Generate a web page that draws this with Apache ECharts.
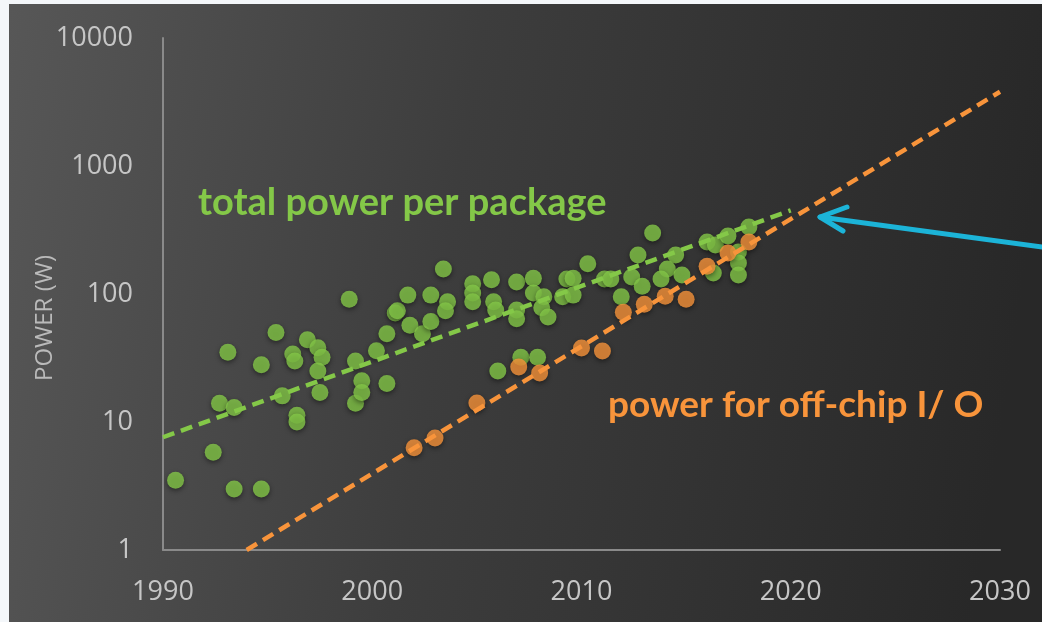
<!DOCTYPE html>
<html>
<head>
<meta charset="utf-8">
<script src="https://cdn.jsdelivr.net/npm/echarts@6/dist/echarts.min.js"></script>
<style>
  html, body { margin: 0; padding: 0; background: #f4f7fa; }
  #chart { position: absolute; left: 9px; top: 4px; width: 1033px; height: 618px; }
</style>
</head>
<body>
<div id="chart"></div>
<script>
// Total power per package [year, W]
const packagePower = [
  [1990.6, 3.5], [1992.4, 5.8], [1993.4, 3.0], [1994.7, 3.0], [1992.7, 14], [1993.4, 13],
  [1993.1, 35], [1994.7, 28], [1995.4, 50], [1996.2, 34], [1996.3, 30], [1996.4, 11.3],
  [1996.4, 10], [1995.7, 16], [1996.9, 44], [1997.4, 38], [1997.6, 32], [1997.4, 25],
  [1997.5, 17], [1998.9, 91], [1999.2, 30], [1999.2, 14], [1999.5, 21], [1999.5, 17],
  [2000.2, 36], [2000.7, 49], [2000.7, 20], [2001.1, 71], [2001.2, 74], [2001.7, 98],
  [2001.8, 57], [2002.4, 49], [2002.8, 98], [2002.8, 61], [2003.4, 157], [2003.6, 87],
  [2003.5, 74], [2004.8, 120], [2004.8, 102], [2004.8, 87], [2005.7, 129], [2005.8, 87],
  [2005.9, 75], [2006.9, 124], [2007.7, 133], [2007.7, 102], [2006.9, 75], [2006.9, 64],
  [2008.2, 95], [2008.1, 78], [2008.4, 66], [2009.3, 131], [2009.6, 133], [2009.1, 95],
  [2009.6, 98], [2010.3, 172], [2011.1, 131], [2011.4, 131], [2012.7, 202], [2012.4, 136],
  [2012.9, 115], [2011.9, 95], [2013.4, 300], [2014.5, 202], [2014.1, 157], [2014.8, 141],
  [2013.8, 131], [2016.0, 255], [2016.4, 241], [2017.0, 284], [2018.0, 334], [2017.5, 213],
  [2017.5, 175], [2016.3, 146], [2017.5, 141], [2007.1, 32], [2007.9, 32], [2006.0, 25]
];

// Power for off-chip I/O [year, W]
const ioPower = [
  [2002, 6.3], [2003, 7.5], [2005, 14.1], [2007, 26.9], [2008, 24.1], [2010, 37.9],
  [2011, 35.9], [2012, 72], [2013, 83], [2014, 96], [2015, 91], [2016, 165],
  [2017, 209], [2018, 255]
];

// Exponential trend lines (straight on the log axis)
const packageTrend = [[1990, 7.6], [2020, 450]];
const ioTrend = [[1994, 1], [2030, 3800]];

const xTicks = { min: 1990, max: 2030, step: 10 };
const yTicks = { min: 1, max: 10000 };

const labels = {
  package: 'total power per package',
  io: 'power for off-chip I/ O',
  yName: 'POWER (W)'
};

const GREEN = '#84c848';
const ORANGE = '#f8943b';
const CYAN = '#1cb4d8';

const chart = echarts.init(document.getElementById('chart'), null, { renderer: 'canvas' });

const dotStyle = fill => ({
  color: fill,
  borderWidth: 0,
  shadowBlur: 5,
  shadowOffsetY: 2,
  shadowColor: 'rgba(0,0,0,0.55)'
});

// plain integers, no thousands separators
const plain = v => String(Math.round(v));

chart.setOption({
  animation: false,
  backgroundColor: {
    type: 'linear', x: 0, y: 0, x2: 1, y2: 0.25,
    colorStops: [
      { offset: 0, color: '#575757' },
      { offset: 0.45, color: '#3d3d3d' },
      { offset: 1, color: '#282828' }
    ]
  },
  grid: { left: 154, top: 34, right: 42, bottom: 72, containLabel: false },
  xAxis: {
    type: 'value',
    min: xTicks.min, max: xTicks.max, interval: xTicks.step,
    axisLine: { lineStyle: { color: '#8a8a8a', width: 2 } },
    axisTick: { show: false },
    splitLine: { show: false },
    axisLabel: { color: '#c6c6c6', fontSize: 27, fontFamily: 'Open Sans', margin: 29, formatter: plain }
  },
  yAxis: {
    type: 'log', logBase: 10,
    min: yTicks.min, max: yTicks.max,
    name: labels.yName,
    nameLocation: 'middle',
    nameGap: 106,
    nameMoveOverlap: false,
    nameTextStyle: {
      color: '#bababa', fontSize: 24, fontFamily: 'Open Sans',
      padding: [0, 48, 0, 0]
    },
    axisLine: { show: true, lineStyle: { color: '#8a8a8a', width: 2 } },
    axisTick: { show: false },
    splitLine: { show: false },
    axisLabel: { color: '#c6c6c6', fontSize: 27, fontFamily: 'Open Sans', margin: 30, formatter: plain }
  },
  series: [
    {
      type: 'scatter', data: packagePower, symbolSize: 17,
      itemStyle: dotStyle(GREEN), z: 2
    },
    {
      type: 'line', data: packageTrend, symbol: 'none', z: 3,
      lineStyle: { color: GREEN, width: 4.5, type: [12, 7] }
    },
    {
      type: 'scatter', data: ioPower, symbolSize: 17,
      itemStyle: dotStyle(ORANGE), z: 4
    },
    {
      type: 'line', data: ioTrend, symbol: 'none', z: 5,
      lineStyle: { color: ORANGE, width: 4.5, type: [12, 7] }
    }
  ],
  graphic: [
    {
      type: 'text', x: 189, y: 199,
      style: {
        text: labels.package, fill: GREEN, fontSize: 38, fontWeight: 'bold',
        fontFamily: 'Lato', verticalAlign: 'middle'
      }
    },
    {
      type: 'text', x: 599, y: 401,
      style: {
        text: labels.io, fill: ORANGE, fontSize: 37, fontWeight: 'bold',
        fontFamily: 'Lato', verticalAlign: 'middle'
      }
    },
    {
      type: 'polyline',
      shape: { points: [[1040, 244], [811, 213]] },
      style: { stroke: CYAN, lineWidth: 5, lineCap: 'round' }
    },
    {
      type: 'polyline',
      shape: { points: [[838, 203], [811, 213], [834, 227]] },
      style: { stroke: CYAN, lineWidth: 5, lineCap: 'round', lineJoin: 'round', fill: null }
    }
  ]
});
</script>
</body>
</html>
